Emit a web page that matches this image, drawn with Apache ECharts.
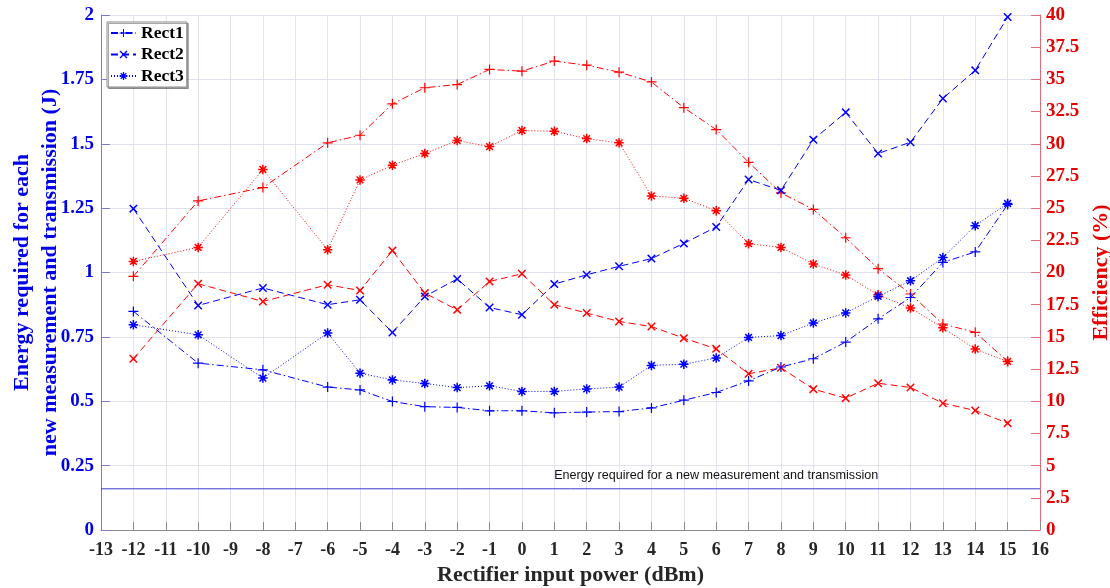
<!DOCTYPE html>
<html>
<head>
<meta charset="utf-8">
<script src="https://cdn.jsdelivr.net/npm/echarts@6/dist/echarts.min.js"></script>
<style>
html,body{margin:0;padding:0;background:#ffffff;}
#chart{width:1110px;height:588px;}
</style>
</head>
<body>
<div id="chart"></div>
<script>
// ---------------- data ----------------
const xValues = [-12, -10, -8, -6, -5, -4, -3, -2, -1, 0, 1, 2, 3, 4, 5, 6, 7, 8, 9, 10, 11, 12, 13, 14, 15];
const legendNames = ['Rect1', 'Rect2', 'Rect3'];
const effNames = ['Rect1 efficiency', 'Rect2 efficiency', 'Rect3 efficiency'];

// Energy (J), left axis
const energyRect1 = [0.849, 0.648, 0.622, 0.555, 0.544, 0.499, 0.479, 0.476, 0.463, 0.463, 0.455, 0.458, 0.460, 0.474, 0.504, 0.534, 0.579, 0.633, 0.665, 0.730, 0.820, 0.903, 1.039, 1.080, 1.264];
const energyRect2 = [1.248, 0.872, 0.940, 0.875, 0.894, 0.767, 0.907, 0.975, 0.864, 0.836, 0.955, 0.991, 1.024, 1.054, 1.113, 1.177, 1.361, 1.319, 1.516, 1.622, 1.462, 1.506, 1.676, 1.785, 1.992];
const energyRect3 = [0.797, 0.758, 0.590, 0.765, 0.609, 0.583, 0.569, 0.553, 0.560, 0.538, 0.538, 0.548, 0.555, 0.639, 0.644, 0.668, 0.748, 0.755, 0.804, 0.843, 0.907, 0.968, 1.058, 1.182, 1.268];

// Efficiency (%), right axis
const effRect1 = [19.7, 25.56, 26.6, 30.07, 30.66, 33.1, 34.35, 34.6, 35.77, 35.64, 36.42, 36.1, 35.56, 34.8, 32.8, 31.1, 28.56, 26.18, 24.9, 22.7, 20.3, 18.33, 16.0, 15.35, 13.1];
const effRect2 = [13.3, 19.13, 17.75, 19.05, 18.6, 21.7, 18.4, 17.1, 19.3, 19.9, 17.5, 16.85, 16.2, 15.8, 14.9, 14.07, 12.13, 12.6, 10.94, 10.24, 11.4, 11.07, 9.85, 9.28, 8.3];
const effRect3 = [20.86, 21.95, 28.0, 21.77, 27.19, 28.33, 29.24, 30.25, 29.78, 31.03, 30.97, 30.4, 30.07, 25.95, 25.76, 24.8, 22.24, 21.95, 20.66, 19.8, 18.27, 17.24, 15.7, 14.05, 13.09];

// threshold line
const energyThreshold = 0.16;
const thresholdText = 'Energy required for a new measurement and transmission';
const thresholdTextX = 6;

// axes
const xAxisRange = [-13, 16];
const xAxisStep = 1;
const energyRange = [0, 2];
const energyStep = 0.25;
const effRange = [0, 40];
const effStep = 2.5;
const xAxisTitle = 'Rectifier input power (dBm)';
const energyAxisTitle = 'Energy required for each\nnew measurement and transmission (J)';
const effAxisTitle = 'Efficiency (%)';

// ---------------- styling ----------------
const SERIF = '"Liberation Serif", "Times New Roman", Times, serif';
const BLUE = '#0000ff';
const RED = '#ff0000';
const BLUE_TXT = '#0000e6';
const RED_TXT = '#e60000';
const GRID = '#e2e2ee';
const THRESH = '#3c3cd2';

function crossPath(angleDeg, t) {
  const L = 1;
  const base = [[-t,-L],[t,-L],[t,-t],[L,-t],[L,t],[t,t],[t,L],[-t,L],[-t,t],[-L,t],[-L,-t],[-t,-t]];
  const a = angleDeg * Math.PI / 180, c = Math.cos(a), s = Math.sin(a);
  return 'M' + base.map(p => ((p[0]*c - p[1]*s)*10 + 10).toFixed(3) + ',' + ((p[0]*s + p[1]*c)*10 + 10).toFixed(3)).join('L') + 'Z';
}
const plusSym = 'path://' + crossPath(0, 0.12);
const xSym = 'path://' + crossPath(45, 0.14);
const starSym = 'path://' + crossPath(0, 0.16) + crossPath(45, 0.16);

const styles = [
  { sym: plusSym, size: 10, dash: [7, 3, 1.5, 3] },
  { sym: xSym, size: 8.5, dash: [7, 4] },
  { sym: starSym, size: 9.5, dash: [1, 2] }
];

function mk(name, vals, axisIdx, color, st) {
  return {
    name: name,
    type: 'line',
    yAxisIndex: axisIdx,
    data: xValues.map((x, i) => [x, vals[i]]),
    symbol: st.sym,
    symbolSize: st.size,
    showSymbol: true,
    showAllSymbol: true,
    lineStyle: { color: color, width: 1, type: st.dash },
    itemStyle: { color: color },
    emphasis: { disabled: true },
    silent: true,
    animation: false
  };
}

const series = [
  {
    name: 'threshold',
    type: 'line',
    yAxisIndex: 0,
    data: [[xAxisRange[0], energyThreshold], [xAxisRange[1], energyThreshold]],
    symbol: 'none',
    lineStyle: { color: THRESH, width: 1, type: 'solid' },
    itemStyle: { color: THRESH },
    emphasis: { disabled: true },
    silent: true,
    animation: false,
    markPoint: {
      silent: true,
      animation: false,
      symbol: 'circle',
      symbolSize: 1,
      itemStyle: { color: 'rgba(0,0,0,0)' },
      label: {
        show: true,
        position: 'top',
        distance: 6,
        formatter: thresholdText,
        color: '#111',
        fontFamily: '"Liberation Sans", Arial, sans-serif',
        fontSize: 12.6
      },
      data: [{ coord: [thresholdTextX, energyThreshold] }]
    }
  },
  mk(effNames[0], effRect1, 1, RED, styles[0]),
  mk(effNames[1], effRect2, 1, RED, styles[1]),
  mk(effNames[2], effRect3, 1, RED, styles[2]),
  mk(legendNames[0], energyRect1, 0, BLUE, styles[0]),
  mk(legendNames[1], energyRect2, 0, BLUE, styles[1]),
  mk(legendNames[2], energyRect3, 0, BLUE, styles[2])
];

const chart = echarts.init(document.getElementById('chart'), null, { renderer: 'canvas' });
chart.setOption({
  animation: false,
  backgroundColor: '#ffffff',
  grid: { left: 101, right: 70, top: 15, bottom: 58, containLabel: false, outerBoundsMode: 'none' },
  legend: {
    data: legendNames,
    orient: 'vertical',
    left: 107,
    top: 22,
    itemWidth: 25,
    itemHeight: 10,
    itemGap: 3.5,
    padding: [2, 3, 2, 3],
    backgroundColor: '#ffffff',
    borderColor: '#8c8c8c',
    borderWidth: 1,
    shadowColor: 'rgba(0,0,0,0.35)',
    shadowOffsetX: 1.5,
    shadowOffsetY: 1.5,
    shadowBlur: 0,
    selectedMode: false,
    textStyle: { fontFamily: SERIF, fontWeight: 'bold', fontSize: 17.5, color: '#000', lineHeight: 18 }
  },
  xAxis: {
    type: 'value',
    min: xAxisRange[0],
    max: xAxisRange[1],
    interval: xAxisStep,
    name: xAxisTitle,
    nameLocation: 'middle',
    nameGap: 34,
    nameMoveOverlap: false,
    nameTextStyle: { fontFamily: SERIF, fontWeight: 'bold', fontSize: 22, color: '#262626' },
    axisLine: { show: true, onZero: false, lineStyle: { color: '#8a8a8a', width: 1 } },
    axisTick: { show: true, inside: true, length: 8, lineStyle: { color: '#8a8a8a' } },
    axisLabel: { fontFamily: SERIF, fontWeight: 'bold', fontSize: 18, color: '#262626', margin: 11, showMinLabel: true, showMaxLabel: true },
    splitLine: { show: true, lineStyle: { color: GRID, width: 1 } }
  },
  yAxis: [
    {
      type: 'value',
      position: 'left',
      min: energyRange[0],
      max: energyRange[1],
      interval: energyStep,
      name: energyAxisTitle,
      nameLocation: 'middle',
      nameRotate: 90,
      nameGap: 37,
      nameMoveOverlap: false,
      nameTextStyle: { fontFamily: SERIF, fontWeight: 'bold', fontSize: 22, color: BLUE_TXT, lineHeight: 28, align: 'center' },
      axisLine: { show: true, onZero: false, lineStyle: { color: '#7a7ad6', width: 1 } },
      axisTick: { show: true, inside: true, length: 9, lineStyle: { color: '#7a7ad6' } },
      axisLabel: { fontFamily: SERIF, fontWeight: 'bold', fontSize: 19, color: BLUE_TXT, margin: 7 },
      splitLine: { show: true, lineStyle: { color: GRID, width: 1 } }
    },
    {
      type: 'value',
      position: 'right',
      min: effRange[0],
      max: effRange[1],
      interval: effStep,
      name: effAxisTitle,
      nameLocation: 'middle',
      nameRotate: 90,
      nameGap: 50,
      nameMoveOverlap: false,
      nameTextStyle: { fontFamily: SERIF, fontWeight: 'bold', fontSize: 22, color: RED_TXT },
      axisLine: { show: true, onZero: false, lineStyle: { color: '#e06a78', width: 1 } },
      axisTick: { show: true, inside: true, length: 9, lineStyle: { color: '#e06a78' } },
      axisLabel: { fontFamily: SERIF, fontWeight: 'bold', fontSize: 19, color: RED_TXT, margin: 6 },
      splitLine: { show: false }
    }
  ],
  series: series
});
</script>
</body>
</html>
